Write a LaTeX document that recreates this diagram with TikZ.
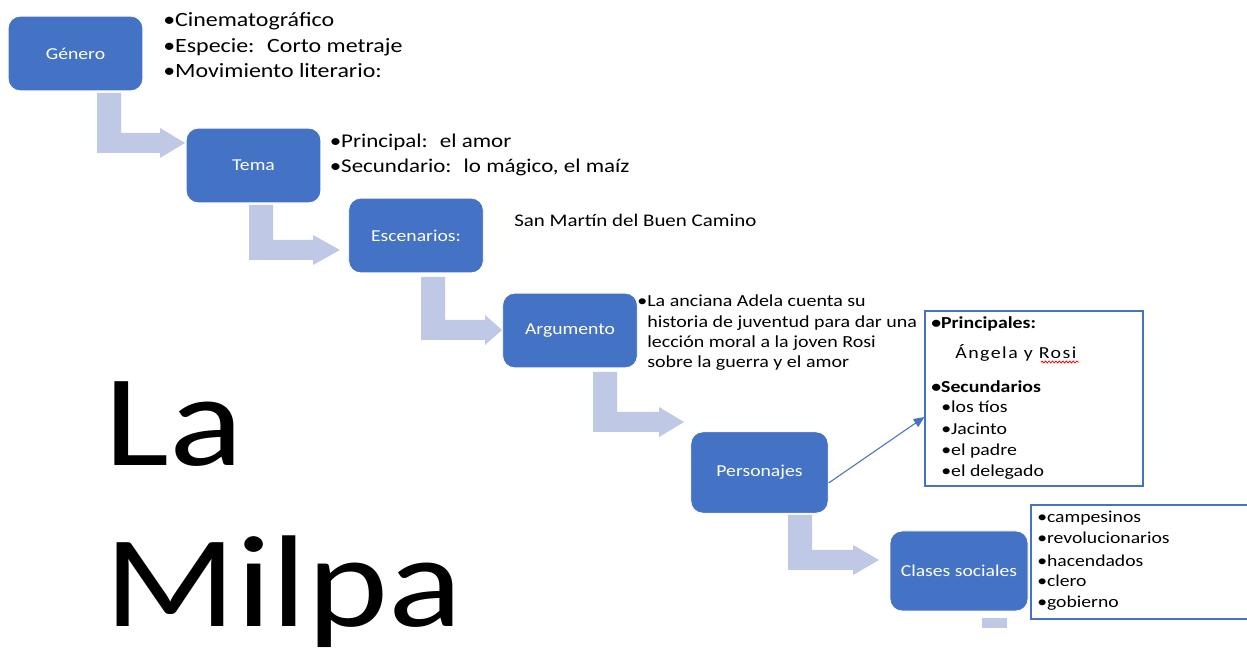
\documentclass[tikz,border=0pt]{standalone}
\usepackage{fontspec}
\setmainfont{Carlito}[FakeStretch=1.18]
\usetikzlibrary{arrows.meta,decorations.pathmorphing}

\definecolor{boxblue}{HTML}{4472C4}
\definecolor{barblue}{HTML}{BFC8E4}

\tikzset{
  box/.style={rectangle, rounded corners=9pt, fill=boxblue, draw=white, line width=0.6pt,
    text=white, font=\fontsize{12.5}{15}\selectfont,
    minimum width=101pt, minimum height=56pt, inner sep=0pt},
  listbox/.style={draw=boxblue, line width=1pt, inner sep=0pt},
  item/.style={anchor=base west, inner sep=0pt},
}

\begin{document}
\begin{tikzpicture}[x=0.75pt, y=-0.75pt]
\useasboundingbox (0,0) rectangle (1247,648);

% flechas anchas
\foreach \xl/\yt/\yb/\xh/\xt in {97/93/153/160/185, 249/205/260/313/340, 421/277/340/485/502,
                                 593/372/432/659/684, 788/515/570/853/879}
  \fill[barblue] (\xl,\yt) -- (\xl+24,\yt) -- (\xl+24,\yb-20) -- (\xh,\yb-20) -- (\xh,\yb-25)
                 -- (\xt,\yb-10) -- (\xh,\yb+5) -- (\xh,\yb) -- (\xl,\yb) -- cycle;
\fill[barblue] (982,618) rectangle (1007,628);

% cajas
\node[box] (gen) at (75.5,53.5) {Género};
\node[box] (tema) at (253.5,165.5) {Tema};
\node[box] (esc) at (416,235.5) {Escenarios:};
\node[box] (arg) at (570,330.5) {Argumento};
\node[box, minimum width=103pt, minimum height=61pt] (pers) at (759.5,472.5) {Personajes};
\node[box, minimum width=103.5pt, minimum height=60pt] (clas) at (959,571) {Clases sociales};

\node[listbox, minimum width=163.5pt, minimum height=131.25pt] (perlist) at (1034,398.5) {};
\node[listbox, minimum width=171.75pt, minimum height=85.5pt] (claslist) at (1145.5,562) {};

\draw[boxblue, line width=0.8pt, -{Triangle[length=8pt,width=7pt]}]
  ([yshift=-7.9pt]pers.east) -- ([yshift=-13.9pt]perlist.west);

% textos
\foreach \yy/\txt [count=\i] in {27/•Cinematográfico, 52.5/{•Especie:~ Corto metraje},
                                 78/{•Movimiento literario:}}
  \node[item, font=\fontsize{15.2}{18}\selectfont] (gen\i) at (163,\yy) {\txt};

\foreach \yy/\txt [count=\i] in {148/{•Principal:~ el amor}, 173/{•Secundario:~ lo mágico, el maíz}}
  \node[item, font=\fontsize{14.6}{18}\selectfont] (tema\i) at (329.5,\yy) {\txt};

\node[item, font=\fontsize{13.3}{16}\selectfont] (esc1) at (514,227) {San Martín del Buen Camino};

\node[item, font=\fontsize{12.7}{15}\selectfont] (arg0) at (637,307) {•};
\foreach \yy/\txt [count=\i] in {307/La anciana Adela cuenta su, 327.3/historia de juventud para dar una,
                                 347.6/lección moral a la joven Rosi, 368/sobre la guerra y el amor}
  \node[item, font=\fontsize{12.7}{15}\selectfont] (arg\i) at (647,\yy) {\txt};

\node[item, font=\fontsize{12.6}{15}\selectfont\bfseries] (pers1) at (931,329) {•Principales:};
\node[item, font=\fontsize{12.6}{15}\selectfont\addfontfeature{LetterSpace=9}] (pers2) at (955,359) {Ángela y Rosi};
\draw[red, line width=0.6pt, decorate, decoration={snake, amplitude=0.7pt, segment length=2.6pt}]
  (1041,362) -- (1079,362);
\node[item, font=\fontsize{12.6}{15}\selectfont\bfseries] (pers3) at (931,393) {•Secundarios};
\foreach \yy/\txt [count=\i] in {413/los tíos, 435/Jacinto, 456/el padre, 477/el delegado}
  \node[item, font=\fontsize{12.6}{15}\selectfont] (sec\i) at (941,\yy) {•\txt};

\foreach \yy/\txt [count=\i] in {523/campesinos, 544/revolucionarios, 566/hacendados, 587/clero, 608/gobierno}
  \node[item, font=\fontsize{12.5}{15}\selectfont] (clas\i) at (1037,\yy) {•\txt};

% titulo
\node[item, font=\fontsize{98}{120}\selectfont] (la) at (104.5,466) {La};
\node[item, font=\fontsize{98}{120}\selectfont] (milpa) at (104.5,627) {Milpa};
\end{tikzpicture}
\end{document}
